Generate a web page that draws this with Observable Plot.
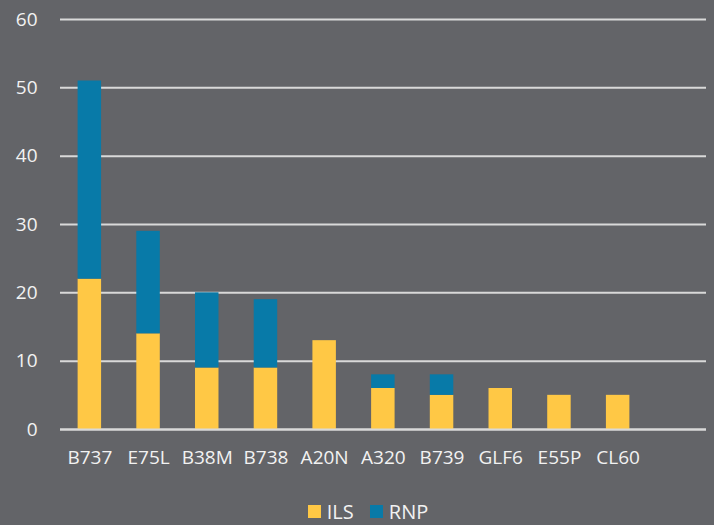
<!DOCTYPE html>
<html>
<head>
<meta charset="utf-8">
<script src="https://cdn.jsdelivr.net/npm/d3@7"></script>
<script src="https://cdn.jsdelivr.net/npm/@observablehq/plot@0.6"></script>
<style>
  html, body { margin: 0; padding: 0; background: #636468; }
  body { width: 714px; height: 525px; overflow: hidden; font-family: "Open Sans", sans-serif; }
  #legend { display: flex; justify-content: center; align-items: center; height: 30px; margin-top: 6px; padding-left: 22px; color: #f2f2f2; font-size: 20px; }
  .item { display: flex; align-items: center; margin: 0 8px; }
  .sw { width: 13px; height: 13px; margin-right: 6px; display: inline-block; }
</style>
</head>
<body>
<div id="chart"></div>
<div id="legend"></div>
<script>
const categories = ["B737", "E75L", "B38M", "B738", "A20N", "A320", "B739", "GLF6", "E55P", "CL60"];
const ils = [22, 14, 9, 9, 13, 6, 5, 6, 5, 5];
const rnp = [29, 15, 11, 10, 0, 2, 3, 0, 0, 0];
const seriesNames = ["ILS", "RNP"];
const seriesColors = ["#FFC845", "#087AA8"];
const yTicks = [0, 10, 20, 30, 40, 50, 60];

const rows = [];
categories.forEach((c, i) => {
  rows.push({cat: c, series: "ILS", value: ils[i]});
  rows.push({cat: c, series: "RNP", value: rnp[i]});
});

const plot = Plot.plot({
  width: 714,
  height: 490,
  marginTop: 19,
  marginBottom: 61,
  marginLeft: 60,
  marginRight: 8,
  style: {background: "transparent", color: "#f2f2f2", fontFamily: "Open Sans, sans-serif", fontSize: "19px"},
  x: {domain: categories, range: [60, 647], round: false, paddingInner: 0.6, paddingOuter: 0.3, label: null, tickSize: 0, tickPadding: 21},
  y: {domain: [0, 60], ticks: yTicks, label: null, tickSize: 0, tickPadding: 23},
  color: {domain: seriesNames, range: seriesColors},
  marks: [
    Plot.ruleY(yTicks, {stroke: "#d9d9d9", strokeWidth: 2}),
    Plot.barY(rows, {x: "cat", y: "value", fill: "series", order: seriesNames}),
    Plot.ruleY([0], {stroke: "#d9d9d9", strokeWidth: 2})
  ]
});
plot.querySelectorAll("text").forEach(t => t.setAttribute("fill", "#f2f2f2"));
document.getElementById("chart").appendChild(plot);

const legend = document.getElementById("legend");
seriesNames.forEach((s, i) => {
  const item = document.createElement("span");
  item.className = "item";
  const sw = document.createElement("span");
  sw.className = "sw";
  sw.style.background = seriesColors[i];
  item.appendChild(sw);
  item.appendChild(document.createTextNode(s));
  legend.appendChild(item);
});
</script>
</body>
</html>
